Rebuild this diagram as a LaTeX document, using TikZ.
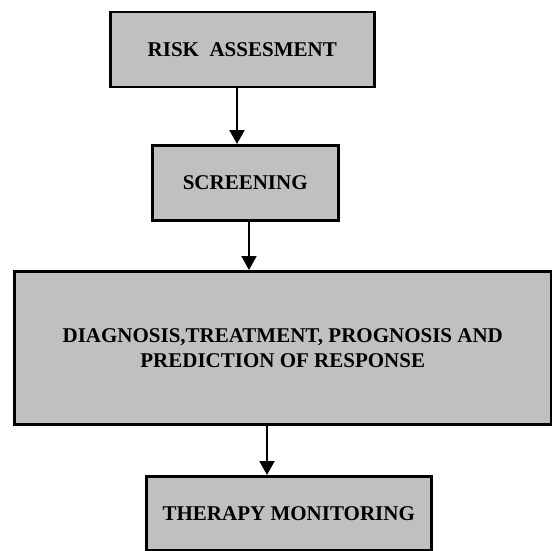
\documentclass[tikz,border=0pt]{standalone}
\usepackage{fontspec}
\setmainfont{Liberation Serif}
\usetikzlibrary{arrows.meta}
\definecolor{boxgray}{HTML}{C0C0C0}
\begin{document}
\begin{tikzpicture}[x=1pt, y=-1pt,
    blk/.style={draw, line width=2.5pt, fill=boxgray, anchor=north west, align=center,
      inner sep=0pt, font=\bfseries\fontsize{21}{25}\selectfont},
    arr/.style={line width=2pt, -{Triangle[width=15pt,length=14pt]}}]
  \useasboundingbox (0,0) rectangle (552,551);
  % boxes
  \node[blk, minimum width=264pt, minimum height=75pt] (risk) at (109,11) {RISK\ \ ASSESMENT};
  \node[blk, minimum width=186pt, minimum height=75pt] (screen) at (151,144) {SCREENING};
  \node[blk, minimum width=537pt, minimum height=153pt] (diag) at (13,270)
    {DIAGNOSIS,TREATMENT, PROGNOSIS AND\\PREDICTION OF RESPONSE};
  \node[blk, minimum width=285pt, minimum height=74pt] (ther) at (145,475) {THERAPY MONITORING};
  % arrows
  \foreach \a/\b/\x in {risk/screen/237, screen/diag/249, diag/ther/267}
    \draw[arr] (\x,0 |- \a.south) -- (\x,0 |- \b.north);
\end{tikzpicture}
\end{document}
